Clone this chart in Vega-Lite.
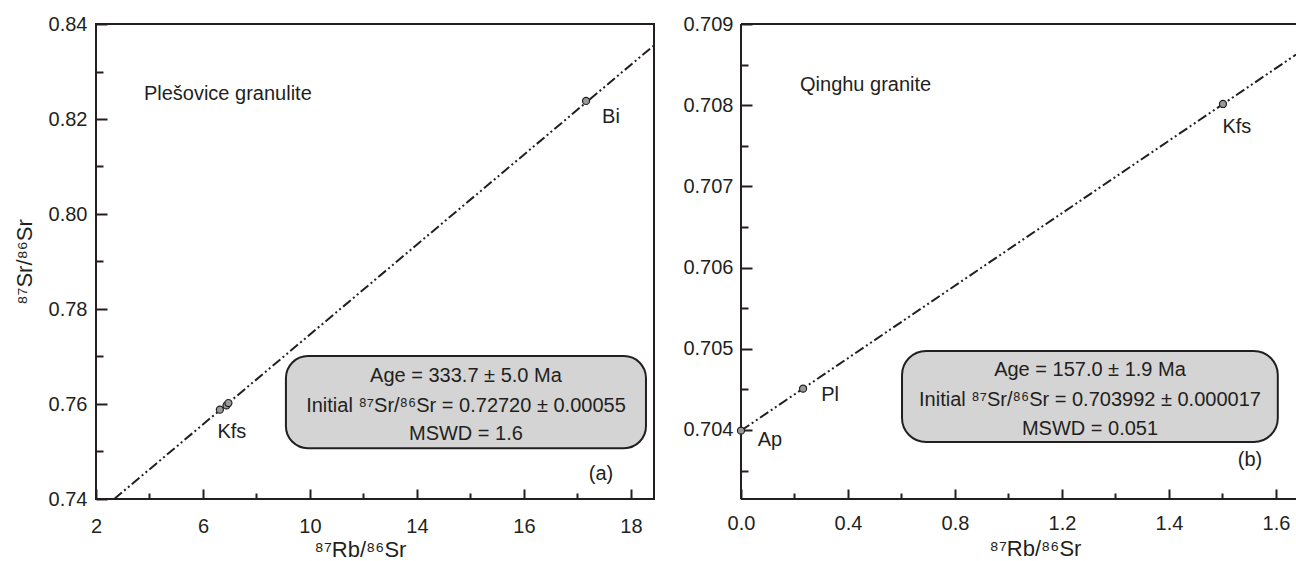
{
  "$schema": "https://vega.github.io/schema/vega-lite/v6.json",
  "padding": {"left": 12, "top": 13, "right": 0, "bottom": 0},
  "background": "white",
  "spacing": 23,
  "config": {
    "font": "Liberation Sans",
    "view": {"stroke": null},
    "axis": {
      "domainColor": "#231f20", "domainWidth": 2, "tickColor": "#231f20", "tickWidth": 2,
      "labelFont": "Liberation Sans", "labelFontSize": 20, "labelColor": "#231f20",
      "titleFont": "Liberation Sans", "titleFontSize": 22, "titleFontWeight": "normal", "titleColor": "#231f20",
      "grid": false, "labelOverlap": false, "labelFlush": false, "ticks": true
    },
    "text": {"font": "Liberation Sans", "fontSize": 20, "color": "#231f20"}
  },
  "datasets": {
    "leftBox": [{"x1": 9.10, "x2": 22.56, "y1": 0.7507, "y2": 0.7701}],
    "leftLine": [{"x": 2.68, "y": 0.74}, {"x": 22.86, "y": 0.8355}],
    "leftPts": [
      {"x": 6.63, "y": 0.7588, "m": "Kfs"},
      {"x": 6.88, "y": 0.7597, "m": "Kfs"},
      {"x": 6.95, "y": 0.7602, "m": "Kfs"},
      {"x": 20.32, "y": 0.8238, "m": "Bi"}
    ],
    "leftLabels": [
      {"x": 21.25, "y": 0.8204, "t": "Bi"},
      {"x": 7.08, "y": 0.7541, "t": "Kfs"},
      {"x": 20.88, "y": 0.7453, "t": "(a)"},
      {"x": 15.83, "y": 0.7659, "t": "Age = 333.7 ± 5.0 Ma"},
      {"x": 15.83, "y": 0.7596, "t": "Initial ⁸⁷Sr/⁸⁶Sr = 0.72720 ± 0.00055"},
      {"x": 15.83, "y": 0.7537, "t": "MSWD = 1.6"}
    ],
    "leftTitle": [{"x": 3.79, "y": 0.8253, "t": "Plešovice granulite"}],
    "rightBox": [{"x1": 0.602, "x2": 2.007, "y1": 0.703852, "y2": 0.704973}],
    "rightLine": [{"x": 0, "y": 0.703992}, {"x": 2.075, "y": 0.708623}],
    "rightPts": [
      {"x": 0, "y": 0.703992, "m": "Ap"},
      {"x": 0.232, "y": 0.704509, "m": "Pl"},
      {"x": 1.802, "y": 0.708015, "m": "Kfs"}
    ],
    "rightLabels": [
      {"x": 0.108, "y": 0.703877, "t": "Ap"},
      {"x": 0.333, "y": 0.704431, "t": "Pl"},
      {"x": 1.854, "y": 0.707732, "t": "Kfs"},
      {"x": 1.903, "y": 0.703631, "t": "(b)"},
      {"x": 1.3047, "y": 0.704739, "t": "Age = 157.0 ± 1.9 Ma"},
      {"x": 1.3047, "y": 0.70437, "t": "Initial ⁸⁷Sr/⁸⁶Sr = 0.703992 ± 0.000017"},
      {"x": 1.3047, "y": 0.704012, "t": "MSWD = 0.051"}
    ],
    "rightTitle": [{"x": 0.2206, "y": 0.708249, "t": "Qinghu granite"}],
    "rightFrameH": [{"y": 0.709}, {"y": 0.70315}],
    "rightFrameV": [{"x": 0}]
  },
  "hconcat": [
    {
      "width": 558,
      "height": 475,
      "view": {"stroke": "#231f20", "strokeWidth": 2},
      "resolve": {"axis": {"x": "independent", "y": "independent"}},
      "layer": [
        {
          "data": {"name": "leftBox"},
          "mark": {"type": "rect", "fill": "#d4d4d4", "stroke": "#231f20", "strokeWidth": 2, "cornerRadius": 22},
          "encoding": {
            "x": {
              "field": "x1", "type": "quantitative",
              "scale": {"domain": [2, 22.86], "nice": false, "zero": false},
              "axis": {
                "orient": "bottom",
                "title": "⁸⁷Rb/⁸⁶Sr",
                "values": [2, 6, 10, 14, 18, 22],
                "labelExpr": "datum.value == 18 ? '16' : datum.value == 22 ? '18' : datum.label",
                "domain": false,
                "offset": -10,
                "tickSize": 10,
                "labelPadding": 17,
                "titlePadding": 3,
                "titleX": 264
              }
            },
            "x2": {"field": "x2"},
            "y": {
              "field": "y1", "type": "quantitative",
              "scale": {"domain": [0.74, 0.84], "nice": false, "zero": false},
              "axis": {
                "orient": "left",
                "title": "⁸⁷Sr/⁸⁶Sr",
                "values": [0.74, 0.76, 0.78, 0.8, 0.82, 0.84],
                "format": ".2f",
                "domain": false,
                "offset": -11,
                "tickSize": 11,
                "labelPadding": 9,
                "titlePadding": 12
              }
            },
            "y2": {"field": "y2"}
          }
        },
        {
          "data": {"name": "leftLine"},
          "mark": {"type": "line", "stroke": "#231f20", "strokeWidth": 2, "strokeDash": [10, 3, 2, 3, 2, 3]},
          "encoding": {
            "x": {
              "field": "x", "type": "quantitative",
              "axis": {"orient": "bottom", "values": [4, 8, 12, 16, 20], "labels": false, "domain": false, "title": null, "offset": -6, "tickSize": 6}
            },
            "y": {
              "field": "y", "type": "quantitative",
              "axis": {"orient": "left", "values": [0.75, 0.77, 0.79, 0.81, 0.83], "labels": false, "domain": false, "title": null, "offset": -7, "tickSize": 7}
            }
          }
        },
        {
          "data": {"name": "leftPts"},
          "mark": {"type": "point", "shape": "circle", "filled": true, "fill": "#9a9a9a", "stroke": "#231f20", "strokeWidth": 1.2, "size": 50, "opacity": 1},
          "encoding": {
            "x": {"field": "x", "type": "quantitative", "axis": null},
            "y": {"field": "y", "type": "quantitative", "axis": null}
          }
        },
        {
          "data": {"name": "leftLabels"},
          "mark": {"type": "text", "align": "center", "baseline": "middle"},
          "encoding": {
            "x": {"field": "x", "type": "quantitative", "axis": null},
            "y": {"field": "y", "type": "quantitative", "axis": null},
            "text": {"field": "t"}
          }
        },
        {
          "data": {"name": "leftTitle"},
          "mark": {"type": "text", "align": "left", "baseline": "middle"},
          "encoding": {
            "x": {"field": "x", "type": "quantitative", "axis": null},
            "y": {"field": "y", "type": "quantitative", "axis": null},
            "text": {"field": "t"}
          }
        }
      ]
    },
    {
      "width": 555,
      "height": 475,
      "resolve": {"axis": {"x": "independent", "y": "independent"}},
      "layer": [
        {
          "data": {"name": "rightBox"},
          "mark": {"type": "rect", "fill": "#d4d4d4", "stroke": "#231f20", "strokeWidth": 2, "cornerRadius": 24},
          "encoding": {
            "x": {
              "field": "x1", "type": "quantitative",
              "scale": {"domain": [0, 2.075], "nice": false, "zero": false},
              "axis": {
                "orient": "bottom",
                "title": "⁸⁷Rb/⁸⁶Sr",
                "values": [0, 0.4, 0.8, 1.2, 1.6, 2],
                "labelExpr": "datum.value == 1.6 ? '1.4' : datum.value == 2 ? '1.6' : format(datum.value, '.1f')",
                "domain": false,
                "offset": -10,
                "tickSize": 10,
                "labelPadding": 14,
                "titlePadding": 5,
                "titleX": 294
              }
            },
            "x2": {"field": "x2"},
            "y": {
              "field": "y1", "type": "quantitative",
              "scale": {"domain": [0.70315, 0.709], "nice": false, "zero": false},
              "axis": {
                "orient": "left",
                "title": null,
                "values": [0.704, 0.705, 0.706, 0.707, 0.708, 0.709],
                "format": ".3f",
                "domain": false,
                "offset": -11,
                "tickSize": 11,
                "labelPadding": 8
              }
            },
            "y2": {"field": "y2"}
          }
        },
        {
          "data": {"name": "rightFrameH"},
          "mark": {"type": "rule", "stroke": "#231f20", "strokeWidth": 2},
          "encoding": {"y": {"field": "y", "type": "quantitative", "axis": null}}
        },
        {
          "data": {"name": "rightFrameV"},
          "mark": {"type": "rule", "stroke": "#231f20", "strokeWidth": 2},
          "encoding": {"x": {"field": "x", "type": "quantitative", "axis": null}}
        },
        {
          "data": {"name": "rightLine"},
          "mark": {"type": "line", "stroke": "#231f20", "strokeWidth": 2, "strokeDash": [10, 3, 2, 3, 2, 3]},
          "encoding": {
            "x": {
              "field": "x", "type": "quantitative",
              "axis": {"orient": "bottom", "values": [0.2, 0.6, 1.0, 1.4, 1.8], "labels": false, "domain": false, "title": null, "offset": -6, "tickSize": 6}
            },
            "y": {
              "field": "y", "type": "quantitative",
              "axis": {"orient": "left", "values": [0.7035, 0.7045, 0.7055, 0.7065, 0.7075, 0.7085], "labels": false, "domain": false, "title": null, "offset": -7, "tickSize": 7}
            }
          }
        },
        {
          "data": {"name": "rightPts"},
          "mark": {"type": "point", "shape": "circle", "filled": true, "fill": "#9a9a9a", "stroke": "#231f20", "strokeWidth": 1.2, "size": 50, "opacity": 1},
          "encoding": {
            "x": {"field": "x", "type": "quantitative", "axis": null},
            "y": {"field": "y", "type": "quantitative", "axis": null}
          }
        },
        {
          "data": {"name": "rightLabels"},
          "mark": {"type": "text", "align": "center", "baseline": "middle"},
          "encoding": {
            "x": {"field": "x", "type": "quantitative", "axis": null},
            "y": {"field": "y", "type": "quantitative", "axis": null},
            "text": {"field": "t"}
          }
        },
        {
          "data": {"name": "rightTitle"},
          "mark": {"type": "text", "align": "left", "baseline": "middle"},
          "encoding": {
            "x": {"field": "x", "type": "quantitative", "axis": null},
            "y": {"field": "y", "type": "quantitative", "axis": null},
            "text": {"field": "t"}
          }
        }
      ]
    }
  ]
}
